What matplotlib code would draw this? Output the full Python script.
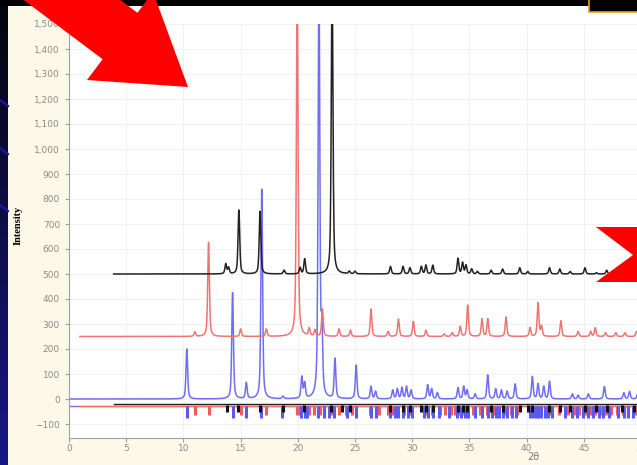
import numpy as np
import matplotlib
matplotlib.use("Agg")
from matplotlib import pyplot as plt
from matplotlib.patches import Polygon, Rectangle
from matplotlib.lines import Line2D
from matplotlib.ticker import StrMethodFormatter

# peak lists (2theta, height above baseline)
blue_pos = [10.3, 14.3, 15.5, 16.85, 18.7, 20.35, 20.6, 21.85, 22.1, 23.25, 25.1, 26.4, 26.8,
            28.3, 28.7, 29.1, 29.5, 29.9, 31.35, 31.7, 32.2, 34.0, 34.5, 34.8, 35.5, 36.6,
            37.3, 37.8, 38.3, 39.0, 40.5, 41.0, 41.5, 42.0, 44.0, 44.5, 45.4, 46.8, 48.5, 49.0, 49.7]
blue_h = [200, 425, 64, 840, 10, 85, 60, 1700, 250, 160, 135, 50, 30,
          35, 40, 45, 50, 35, 56, 40, 25, 45, 50, 35, 20, 96,
          40, 35, 30, 60, 89, 60, 50, 70, 20, 15, 20, 50, 25, 30, 20]
red_pos = [11.0, 12.2, 15.0, 17.25, 19.95, 21.0, 21.5, 22.15, 23.6, 24.6, 26.4, 27.9, 28.8,
           30.1, 31.2, 32.8, 33.5, 34.2, 34.85, 36.1, 36.6, 38.2, 40.3, 41.0, 41.3, 43.0,
           44.5, 45.6, 46.0, 46.9, 47.8, 48.6, 49.6]
red_h = [18, 378, 30, 30, 1400, 30, 25, 110, 30, 25, 110, 20, 70,
         60, 25, 10, 15, 40, 126, 70, 70, 78, 35, 134, 40, 63,
         20, 20, 35, 15, 15, 15, 20]
black_pos = [13.7, 13.95, 14.85, 16.7, 18.8, 20.2, 20.6, 23.0, 24.5, 25.0, 28.1, 29.2, 29.8,
             30.8, 31.2, 31.8, 34.0, 34.4, 34.7, 35.2, 35.7, 36.9, 37.9, 39.4, 40.1, 42.0,
             42.9, 43.8, 45.1, 46.1, 47.0]
black_h = [40, 25, 256, 250, 15, 25, 60, 1200, 10, 10, 30, 30, 25,
           30, 35, 35, 62, 45, 35, 20, 10, 15, 20, 25, 10, 25,
           20, 10, 25, 5, 15]

# bragg marker positions
blue_ticks = [10.3, 14.3, 15.5, 16.8, 18.6, 20.3, 20.6, 20.8, 21.8, 22.3, 22.7, 23.2, 24.3, 25.1,
              26.4, 26.8, 28.1, 28.5, 28.8, 29.2, 29.6, 30.0, 31.0, 31.4, 31.8, 32.3, 33.2, 33.9,
              34.3, 34.6, 34.9, 35.5, 36.1, 36.6, 37.0, 37.3, 37.6, 37.9, 38.3, 38.7, 39.1, 40.3,
              40.6, 40.8, 41.0, 41.3, 41.6, 41.9, 42.2, 43.4, 44.0, 44.4, 44.9, 45.4, 45.8, 46.3,
              46.7, 47.2, 48.0, 48.5, 48.9, 49.3, 49.7]
red_ticks = [11.0, 12.2, 15.0, 17.2, 19.9, 20.2, 21.0, 21.4, 21.9, 22.3, 23.0, 23.6, 24.2, 24.7,
             26.3, 27.1, 27.9, 28.3, 28.8, 29.3, 29.9, 31.2, 31.7, 32.4, 32.9, 33.4, 33.7, 34.1,
             34.4, 34.8, 35.3, 35.9, 36.5, 37.2, 38.1, 38.6, 39.2, 40.3, 40.6, 40.9, 41.3, 42.0,
             42.8, 43.6, 44.2, 44.6, 45.1, 45.6, 46.0, 46.5, 46.9, 47.4, 47.9, 48.4, 48.9, 49.5]
black_ticks = [13.8, 14.8, 16.7, 18.7, 20.5, 22.9, 23.9, 24.6, 28.1, 29.2, 29.8, 30.8, 31.2, 31.8,
               34.0, 34.4, 34.8, 36.9, 37.9, 39.4, 40.1, 40.5, 42.0, 42.9, 43.8, 45.1, 46.1, 47.0,
               48.3, 49.4]

offsets = {"blue": 0, "red": 250, "black": 500}
ranges = {"blue": (0.0, 50.0), "red": (0.96, 50.0), "black": (3.9, 47.1)}

RED = "#f07474"
BLUE = "#6e6ef2"
BLACK = "#222222"
CREAM = "#fcf9e9"

W, H = 637, 465


def pv(x, pos, hts, fw=0.17, eta=0.55):
    y = np.zeros_like(x)
    for p, h in zip(pos, hts):
        d = (x - p) / (fw / 2)
        y += h * (eta / (1 + d * d) + (1 - eta) * np.exp(-np.log(2) * d * d))
    return y


fig = plt.figure(figsize=(W / 100, H / 100), dpi=100)
fig.patch.set_facecolor(CREAM)

ax = fig.add_axes([69 / W, (H - 438) / H, 572 / W, 414 / H])
ax.set_facecolor("white")
ax.set_xlim(0, 50)
ax.set_ylim(-156, 1500)
ax.set_xticks(np.arange(0, 51, 5))
ax.set_yticks(np.arange(-100, 1501, 100))
ax.yaxis.set_major_formatter(StrMethodFormatter("{x:,.0f}"))
ax.grid(True, color="#f1f1f1", lw=0.8)
ax.set_axisbelow(True)
for s in ["top", "right"]:
    ax.spines[s].set_visible(False)
for s in ["left", "bottom"]:
    ax.spines[s].set_color("#a0a0a0")
ax.tick_params(colors="#a0a0a0", labelcolor="#8a8a8a", labelsize=6.5, length=3, width=0.8)
ax.tick_params(axis="x", pad=1.5)

for name, pos, hts, col in [("blue", blue_pos, blue_h, BLUE),
                            ("red", red_pos, red_h, RED),
                            ("black", black_pos, black_h, BLACK)]:
    a, b = ranges[name]
    x = np.linspace(a, b, 4000)
    ax.plot(x, offsets[name] + pv(x, pos, hts), color=col, lw=1.1)

# bragg marker rows
ax.plot([0, 50], [-26, -26], color=BLUE, lw=1.0)
ax.plot([0.96, 50], [-27, -27], color=RED, lw=1.0)
ax.plot([3.9, 50], [-21, -21], color=BLACK, lw=1.0)
ax.vlines(red_ticks, -28, -65, color="#f05a5a", lw=2.2)
ax.vlines(blue_ticks, -28, -76, color="#5a5af0", lw=2.2)
ax.vlines(black_ticks, -24, -52, color="#111111", lw=2.2)

ax.set_ylabel("Intensity", fontfamily="Liberation Serif", fontweight="bold", fontsize=7.5)
ax.yaxis.set_label_coords((23 - 69) / 572, (438 - 225) / 414)
ax.set_xlabel("2θ", color="#777777", fontsize=7)
ax.xaxis.set_label_coords((533 - 69) / 572, (438 - 452) / 414)


def P(pts):
    return [(px / W, 1 - py / H) for px, py in pts]


# white strip above the plot area
fig.add_artist(Rectangle((69 / W, 1 - 24 / H), 1, 18 / H, transform=fig.transFigure,
                         facecolor="white", edgecolor="none", zorder=5))
# slide background: top black bar and left navy strip
fig.add_artist(Rectangle((0, 1 - 6 / H), 1, 6 / H, transform=fig.transFigure,
                         facecolor="black", edgecolor="none", zorder=6))
side = fig.add_axes([0, 0, 8 / W, 1 - 6 / H], zorder=6)
grad = np.linspace(0, 1, 256)
cols = np.zeros((256, 1, 3))
cols[:, 0, 0] = 0.02 + 0.07 * grad
cols[:, 0, 1] = 0.02 + 0.07 * grad
cols[:, 0, 2] = 0.05 + 0.48 * grad
side.imshow(cols, aspect="auto", origin="upper")
side.axis("off")
for y0 in [100, 148, 205]:
    fig.add_artist(Line2D([0, 8 / W], [1 - y0 / H, 1 - (y0 + 6) / H], transform=fig.transFigure,
                          color="#1818a8", lw=1.6, zorder=7))

fig.add_artist(Rectangle((589 / W, 1 - 12 / H), 60 / W, 14 / H, transform=fig.transFigure,
                         facecolor="black", edgecolor="#f39a1c", lw=1.2, zorder=7))

# red arrows
big = [(188, 87), (87, 80), (102.6, 59.2), (-137.4, -120.8), (-102.6, -167.2),
       (137.4, 12.8), (153, -8)]
fig.add_artist(Polygon(P(big), closed=True, transform=fig.transFigure,
                       facecolor="#ff0000", edgecolor="none", zorder=8))
right = [(596, 227), (645, 227), (645, 282), (596, 282), (633, 255)]
fig.add_artist(Polygon(P(right), closed=True, transform=fig.transFigure,
                       facecolor="#ff0000", edgecolor="none", zorder=8))

fig.savefig("out.png", dpi=100, facecolor=CREAM)
